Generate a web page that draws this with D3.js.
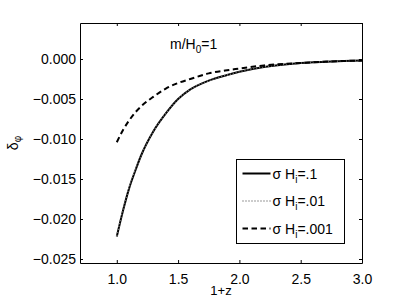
<!DOCTYPE html>
<html>
<head>
<meta charset="utf-8">
<script src="https://cdn.jsdelivr.net/npm/d3@7"></script>
<style>
  body { margin: 0; background: #fff; }
  svg { font-family: "Liberation Sans", Arial, sans-serif; }
  .axis path, .axis line { stroke: #000; }
  .axis text { font-size: 14px; fill: #000; }
</style>
</head>
<body>
<svg id="chart" width="399" height="300"></svg>
<script>
// 1+z sample points
const xs = [1.00, 1.05, 1.10, 1.15, 1.20, 1.30, 1.40, 1.50, 1.60, 1.75, 1.90, 2.00, 2.20, 2.50, 2.75, 3.00];
// delta_phi for each sigma H_i
const solidVals  = [-0.0222, -0.0190, -0.0162, -0.0140, -0.0120, -0.0090, -0.0068, -0.0050, -0.0038, -0.0027, -0.0020, -0.0016, -0.0010, -0.0005, -0.0003, -0.0002];
const dottedVals = [-0.0221, -0.0189, -0.0161, -0.0139, -0.0120, -0.0090, -0.0068, -0.0050, -0.0038, -0.0027, -0.0020, -0.0016, -0.0010, -0.0005, -0.0003, -0.0002];
const dashedVals = [-0.0104, -0.0089, -0.0077, -0.0067, -0.0059, -0.0047, -0.0037, -0.0030, -0.0025, -0.0018, -0.0014, -0.0012, -0.0008, -0.0005, -0.0003, -0.0002];
const seriesNames = ['.1', '.01', '.001'];
const xTicks = [1.0, 1.5, 2.0, 2.5, 3.0];
const yTicks = [0, -0.005, -0.010, -0.015, -0.020, -0.025];

const margin = { top: 23, left: 80, right: 37, bottom: 37 };
const svg = d3.select('#chart');
const width = 399 - margin.left - margin.right;
const height = 300 - margin.top - margin.bottom;

const chart = svg.append('g')
    .attr('transform', `translate(${margin.left},${margin.top})`);

const xScale = d3.scaleLinear().domain([0.7, 3.0]).range([0, width]);
const yScale = d3.scaleLinear().domain([-0.0255, 0.0045]).range([height, 0]);

// axes, ticks pointing inward like matlab
chart.append('g').attr('class', 'axis')
    .attr('transform', `translate(0,${height})`)
    .call(d3.axisBottom(xScale).tickValues(xTicks).tickFormat(d3.format('.1f'))
        .tickSizeInner(-3).tickSizeOuter(0).tickPadding(11));
chart.append('g').attr('class', 'axis')
    .call(d3.axisLeft(yScale).tickValues(yTicks).tickFormat(d3.format('.3f'))
        .tickSizeInner(-3).tickSizeOuter(0).tickPadding(4));
chart.append('g').attr('class', 'axis')
    .call(d3.axisTop(xScale).tickValues(xTicks).tickFormat('')
        .tickSizeInner(-3).tickSizeOuter(0));
chart.append('g').attr('class', 'axis')
    .attr('transform', `translate(${width},0)`)
    .call(d3.axisRight(yScale).tickValues(yTicks).tickFormat('')
        .tickSizeInner(-3).tickSizeOuter(0));

const line = d3.line()
    .x(d => xScale(d[0]))
    .y(d => yScale(d[1]))
    .curve(d3.curveMonotoneX);

const series = [
    { vals: solidVals, dash: null, color: '#000', w: 2 },
    { vals: dottedVals, dash: '1,2', color: '#777', w: 1.5 },
    { vals: dashedVals, dash: '5.5,3.5', color: '#000', w: 2 }
];

series.forEach(s => {
    chart.append('path')
        .datum(xs.map((x, i) => [x, s.vals[i]]))
        .attr('fill', 'none')
        .attr('stroke', s.color)
        .attr('stroke-width', s.w)
        .attr('stroke-dasharray', s.dash)
        .attr('d', line);
});

// annotation
const ann = chart.append('text')
    .attr('x', 90).attr('y', 26)
    .attr('font-size', 14);
ann.append('tspan').text('m/H');
ann.append('tspan').attr('font-size', 10).attr('dy', 4).text('0');
ann.append('tspan').attr('dy', -4).text('=1');

// legend
const legend = chart.append('g').attr('transform', `translate(${236.5 - margin.left},${159.5 - margin.top})`);
legend.append('rect')
    .attr('width', 108).attr('height', 84)
    .attr('fill', '#fff').attr('stroke', '#000');
series.forEach((s, i) => {
    const y = 14 + i * 27.5;
    legend.append('line')
        .attr('x1', 6).attr('x2', 34)
        .attr('y1', y).attr('y2', y)
        .attr('stroke', s.color)
        .attr('stroke-width', s.w)
        .attr('stroke-dasharray', s.dash);
    const t = legend.append('text')
        .attr('x', 36).attr('y', y + 5)
        .attr('font-size', 14);
    t.append('tspan').text('σ H');
    t.append('tspan').attr('font-size', 10).attr('dy', 4).text('i');
    t.append('tspan').attr('dy', -4).text('=' + seriesNames[i]);
});

// axis titles
svg.append('text')
    .attr('x', margin.left + width / 2)
    .attr('y', 295)
    .attr('text-anchor', 'middle')
    .attr('font-size', 13)
    .text('1+z');

const yt = svg.append('text')
    .attr('transform', `translate(18,${margin.top + height / 2}) rotate(-90)`)
    .attr('text-anchor', 'middle')
    .attr('font-size', 14);
yt.append('tspan').text('δ');
yt.append('tspan').attr('font-size', 10).attr('dy', 3).text('φ');
</script>
</body>
</html>
